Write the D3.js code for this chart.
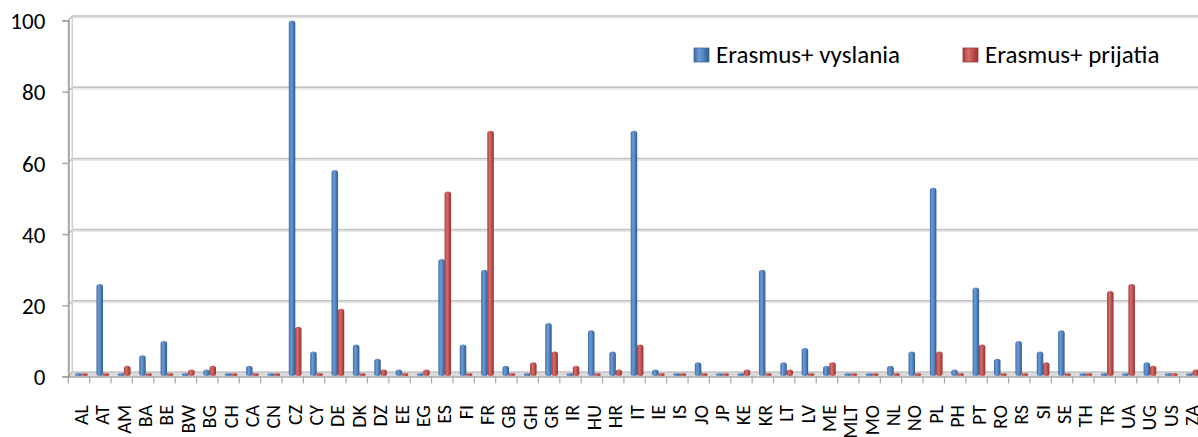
<!DOCTYPE html>
<html>
<head>
<meta charset="utf-8">
<title>Erasmus+ mobility by country</title>
<script src="https://d3js.org/d3.v7.min.js"></script>
<style>
	body { margin: 0; background: #fff; }
	svg { display: block; }
	text { font-family: Carlito, Calibri, Lato, sans-serif; fill: #000; }
</style>
</head>
<body>
<script>
	// country codes along the x axis
	var countries = ["AL","AT","AM","BA","BE","BW","BG","CH","CA","CN","CZ","CY","DE","DK","DZ","EE","EG","ES","FI","FR",
		"GB","GH","GR","IR","HU","HR","IT","IE","IS","JO","JP","KE","KR","LT","LV","ME","MLT","MO","NL","NO",
		"PL","PH","PT","RO","RS","SI","SE","TH","TR","UA","UG","US","ZA"];

	// Erasmus+ vyslania (outgoing)
	var sent = [1,26,0,6,10,0,2,1,3,1,100,7,58,9,5,2,0,33,9,30,
		3,0,15,0,13,7,69,2,1,4,1,1,30,4,8,3,0,0,3,7,
		53,2,25,5,10,7,13,1,1,0,4,1,0];

	// Erasmus+ prijatia (incoming)
	var received = [1,0,3,1,1,2,3,1,0,1,14,0,19,0,2,0,2,52,0,69,
		0,4,7,3,0,2,9,0,0,0,0,2,0,2,0,4,0,1,1,0,
		7,0,9,0,1,4,1,0,24,26,3,0,2];

	var seriesNames = ["Erasmus+ vyslania", "Erasmus+ prijatia"];
	var yTicks = [0, 20, 40, 60, 80, 100];

	var width = 1198, height = 437;
	var x0 = 68.3, bandW = 21.37;
	var depthX = 4, depthY = -4.5;   // offset of the back wall (fake 3D)

	var svg = d3.select("body").append("svg")
		.attr("width", width)
		.attr("height", height);

	var x = d3.scaleBand()
		.domain(countries)
		.range([x0, x0 + bandW * countries.length])
		.padding(0);

	var y = d3.scaleLinear()
		.domain([0, 100])
		.range([376.5, 20.5]);

	var defs = svg.append("defs");
	// cylinder-ish shading for the bars
	function barGradient(id, edge, light, mid, dark) {
		var g = defs.append("linearGradient").attr("id", id)
			.attr("x1", "0%").attr("x2", "100%").attr("y1", "0%").attr("y2", "0%");
		g.append("stop").attr("offset", "0%").attr("stop-color", edge);
		g.append("stop").attr("offset", "35%").attr("stop-color", light);
		g.append("stop").attr("offset", "65%").attr("stop-color", mid);
		g.append("stop").attr("offset", "100%").attr("stop-color", dark);
	}
	barGradient("gBlue", "#3d6aa3", "#6c9cd8", "#4f81bd", "#33598a");
	barGradient("gRed", "#9e3b38", "#d86e6b", "#c0504d", "#8e3330");

	var right = width + 10;

	// floor
	svg.append("path")
		.attr("d", "M" + x0 + "," + y(0) + "L" + (x0 + depthX) + "," + (y(0) + depthY) +
			"L" + right + "," + (y(0) + depthY) + "L" + right + "," + y(0) + "Z")
		.attr("fill", "#dcdcdc")
		.attr("stroke", "none");

	// back wall gridlines
	var grid = svg.append("g");
	grid.selectAll(".gshadow")
		.data(yTicks.filter(function(d) { return d > 0; }))
		.enter().append("line")
		.attr("x1", x0 + depthX).attr("x2", right)
		.attr("y1", function(d) { return y(d) + depthY + 1; })
		.attr("y2", function(d) { return y(d) + depthY + 1; })
		.attr("stroke", "#e8e8e8")
		.attr("stroke-width", 3);
	grid.selectAll(".gline")
		.data(yTicks)
		.enter().append("line")
		.attr("x1", x0 + depthX).attr("x2", right)
		.attr("y1", function(d) { return y(d) + depthY; })
		.attr("y2", function(d) { return y(d) + depthY; })
		.attr("stroke", "#c4c4c4")
		.attr("stroke-width", 1.5);
	grid.selectAll(".gdiag")
		.data(yTicks)
		.enter().append("line")
		.attr("x1", x0).attr("x2", x0 + depthX)
		.attr("y1", function(d) { return y(d); })
		.attr("y2", function(d) { return y(d) + depthY; })
		.attr("stroke", "#b0b0b0")
		.attr("stroke-width", 1.2);

	// side wall back edge
	svg.append("line")
		.attr("x1", x0 + depthX).attr("x2", x0 + depthX)
		.attr("y1", y(100) + depthY).attr("y2", y(0) + depthY)
		.attr("stroke", "#d0d0d0").attr("stroke-width", 1.5);

	// floor front edge
	svg.append("line")
		.attr("x1", x0).attr("x2", right)
		.attr("y1", y(0) + 0.5).attr("y2", y(0) + 0.5)
		.attr("stroke", "#a6a6a6").attr("stroke-width", 1.5);

	// bars
	var barW = 6.5;
	function drawSeries(values, offset, fill) {
		svg.append("g").selectAll("rect")
			.data(values)
			.enter().append("rect")
			.attr("x", function(d, i) { return x(countries[i]) + offset; })
			.attr("y", function(d) { return Math.min(y(d), y(0) - 3.5); })
			.attr("width", barW)
			.attr("height", function(d) { return Math.max(y(0) - y(d), 3.5) - 0.5; })
			.attr("rx", 3.2).attr("ry", 2.5)
			.attr("fill", fill);
	}
	drawSeries(sent, 6.8, "url(#gBlue)");
	drawSeries(received, 13, "url(#gRed)");

	// y axis
	var yAxis = d3.axisLeft(y)
		.tickValues(yTicks)
		.tickSize(6)
		.tickPadding(17)
		.tickFormat(d3.format("d"));
	var ya = svg.append("g")
		.attr("transform", "translate(" + x0 + ",0)")
		.call(yAxis);
	ya.select(".domain").attr("stroke", "#a6a6a6").attr("stroke-width", 2);
	ya.selectAll(".tick line").attr("stroke", "#a6a6a6").attr("stroke-width", 1.5);
	ya.selectAll("text")
		.style("font-size", "23px")
		.attr("dy", "0.36em");

	// x axis ticks at band boundaries
	svg.append("g").selectAll("line")
		.data(d3.range(countries.length + 1))
		.enter().append("line")
		.attr("x1", function(i) { return x0 + i * bandW; })
		.attr("x2", function(i) { return x0 + i * bandW; })
		.attr("y1", y(0))
		.attr("y2", y(0) + 7)
		.attr("stroke", "#a6a6a6")
		.attr("stroke-width", 1.2);

	// x labels, rotated
	svg.append("g").selectAll("text")
		.data(countries)
		.enter().append("text")
		.attr("transform", function(d) {
			return "translate(" + (x(d) + bandW / 2 + 2) + ",405) rotate(-90)";
		})
		.attr("text-anchor", "end")
		.attr("dy", "0.35em")
		.style("font-size", "20px")
		.text(function(d) { return d; });

	// legend
	var legend = svg.append("g");
	var legendPos = [694, 963];
	var legendFill = ["url(#gBlue)", "url(#gRed)"];
	var legendEdge = ["#3d6aa3", "#9e3b38"];
	seriesNames.forEach(function(name, i) {
		legend.append("rect")
			.attr("x", legendPos[i]).attr("y", 48)
			.attr("width", 15).attr("height", 14)
			.attr("fill", legendFill[i])
			.attr("stroke", legendEdge[i]).attr("stroke-width", 0.8);
		legend.append("text")
			.attr("x", legendPos[i] + 22).attr("y", 62.5)
			.style("font-size", "25px")
			.text(name);
	});
</script>
</body>
</html>
